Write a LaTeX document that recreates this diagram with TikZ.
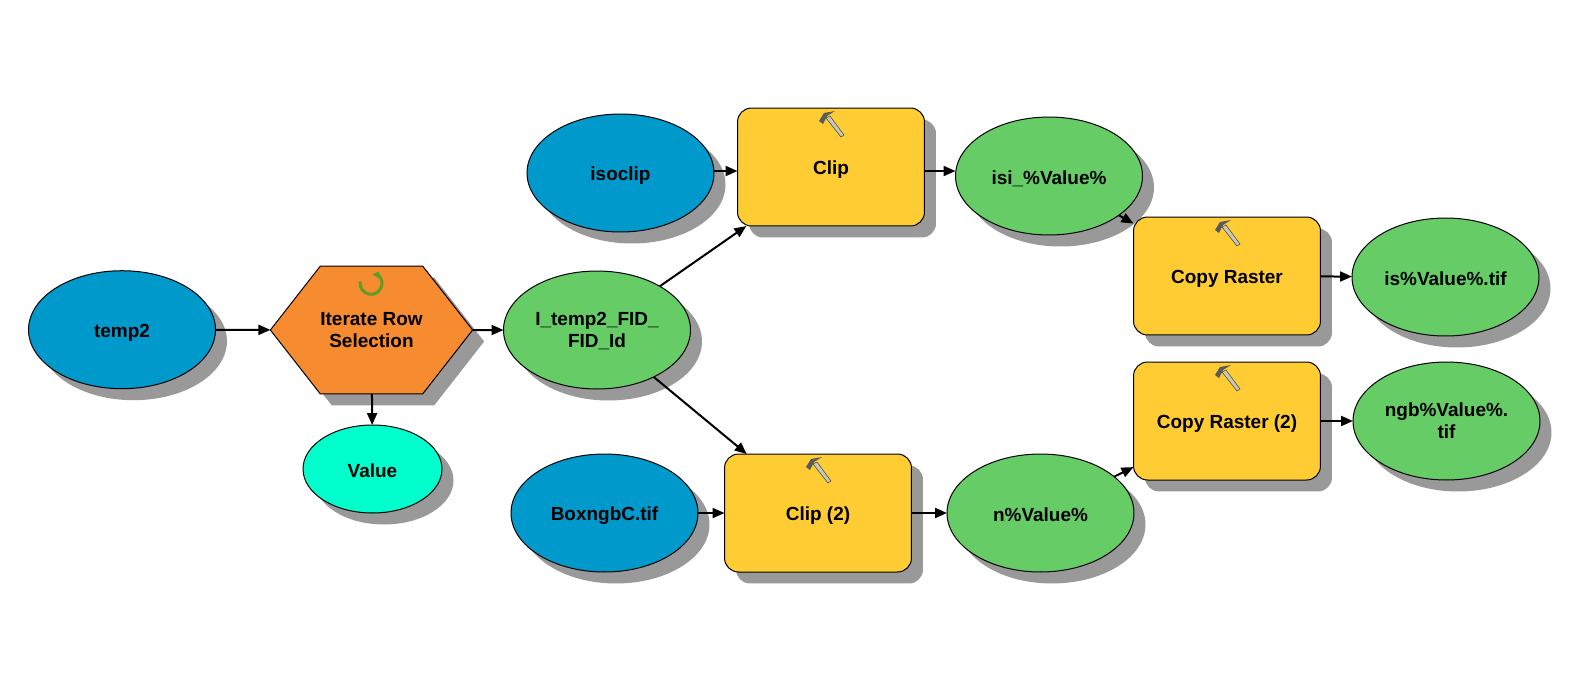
\documentclass[tikz,border=0pt]{standalone}
\usepackage{fontspec}
\setmainfont{Liberation Sans}
\usetikzlibrary{arrows.meta,shadows,shapes.geometric,shapes.symbols}
\definecolor{inputblue}{HTML}{0099CC}
\definecolor{outputgreen}{HTML}{66CC66}
\definecolor{toolyellow}{HTML}{FFCC33}
\definecolor{iterorange}{HTML}{F78B2F}
\definecolor{valuecyan}{HTML}{00FFCC}
\definecolor{shadowgray}{HTML}{999999}
\definecolor{iconhandle}{HTML}{C8C8B4}
\definecolor{iconhead}{HTML}{5A5A5A}
\definecolor{icongreen}{HTML}{5E9E26}
\tikzset{
    modelnode/.style={draw=black, line width=0.02cm, text=black, inner sep=0pt, outer sep=0pt, align=center,
        font=\fontsize{10.8}{12.5}\selectfont\bfseries,
        execute at begin node={\rule{0pt}{0.39cm}},
        execute at end node={\rule[-0.06cm]{0pt}{0.06cm}},
        drop shadow={shadow xshift=0.23cm, shadow yshift=-0.23cm, opacity=1, fill=shadowgray}},
    twolines/.style={execute at begin node={}, execute at end node={}, text depth=0pt},
    datanode/.style={modelnode, ellipse, minimum width=3.74cm, minimum height=2.36cm},
    inputnode/.style={datanode, fill=inputblue},
    outputnode/.style={datanode, fill=outputgreen},
    toolnode/.style={modelnode, rectangle, rounded corners=0.28cm, fill=toolyellow, minimum width=3.74cm, minimum height=2.36cm},
    iternode/.style={modelnode, signal, signal to=east and west, signal pointer angle=104,
        fill=iterorange, minimum width=4.02cm, minimum height=2.56cm},
    valuenode/.style={modelnode, ellipse, fill=valuecyan, minimum width=2.78cm, minimum height=1.76cm},
    flow/.style={->, line width=0.04cm},
    hammericon/.pic={
        \draw[iconhandle!40!black, fill=iconhandle, line width=0.012cm] (-5,10)--(-1,8)--(13,27)--(10,29)--cycle;
        \fill[iconhead] (-12,13)--(-7,5)--(4,3)--(-4,8)--(-8,16)--cycle;
    },
    loopicon/.pic={
        \draw[icongreen, line width=0.06cm] (190:11) arc[start angle=190, end angle=-50, radius=11];
        \fill[icongreen] (1.3,-9)--(8.3,-12)--(8.3,-4.7)--cycle;
    }
}
\begin{document}
\begin{tikzpicture}[x=0.02cm, y=-0.02cm, >={Triangle[length=0.24cm,width=0.2cm]}]
    \useasboundingbox (0, 0) rectangle (1570, 681);

    \node[inputnode] (temp2) at (122, 329.7) {temp2};
    \node[inputnode] (isoclip) at (620.5, 173) {isoclip};
    \node[inputnode] (boxngb) at (604.5, 513) {BoxngbC.tif};
    \node[iternode, twolines] (iterate) at (371.5, 330) {Iterate Row\\Selection};
    \node[valuenode] (value) at (372.5, 469) {Value};
    \node[outputnode, twolines] (fidid) at (597, 330) {I\_temp2\_FID\_\\FID\_Id};
    \node[toolnode] (clip) at (831, 167) {Clip};
    \node[toolnode] (clipb) at (818, 513) {Clip (2)};
    \node[outputnode] (isi) at (1049, 176) {isi\_\%Value\%};
    \node[outputnode] (nval) at (1040.5, 513) {n\%Value\%};
    \node[toolnode] (copy) at (1227, 276) {Copy Raster};
    \node[toolnode] (copyb) at (1227, 421) {Copy Raster (2)};
    \node[outputnode] (istif) at (1445.5, 277) {is\%Value\%.tif};
    \node[outputnode, twolines] (ngbtif) at (1446.5, 421) {ngb\%Value\%.\\tif};
    \coordinate (clipflow) at (830, 171);

    \foreach \i in {clip, clipb, copy, copyb}{
        \pic at (\i.north) {hammericon};
    };
    \pic at (371, 283.3) {loopicon};

    \foreach \a/\b in {temp2/iterate, iterate/fidid, iterate/value, fidid/clip, fidid/clipb,
        boxngb/clipb, clipb/nval, isi/copy, nval/copyb, copy/istif, copyb/ngbtif}{
        \draw[flow] (\a) -- (\b);
    };
    \draw[flow] (isoclip.east |- clipflow) -- (clip.west |- clipflow);
    \draw[flow] (clip.east |- clipflow) -- (isi.west |- clipflow);
\end{tikzpicture}
\end{document}
